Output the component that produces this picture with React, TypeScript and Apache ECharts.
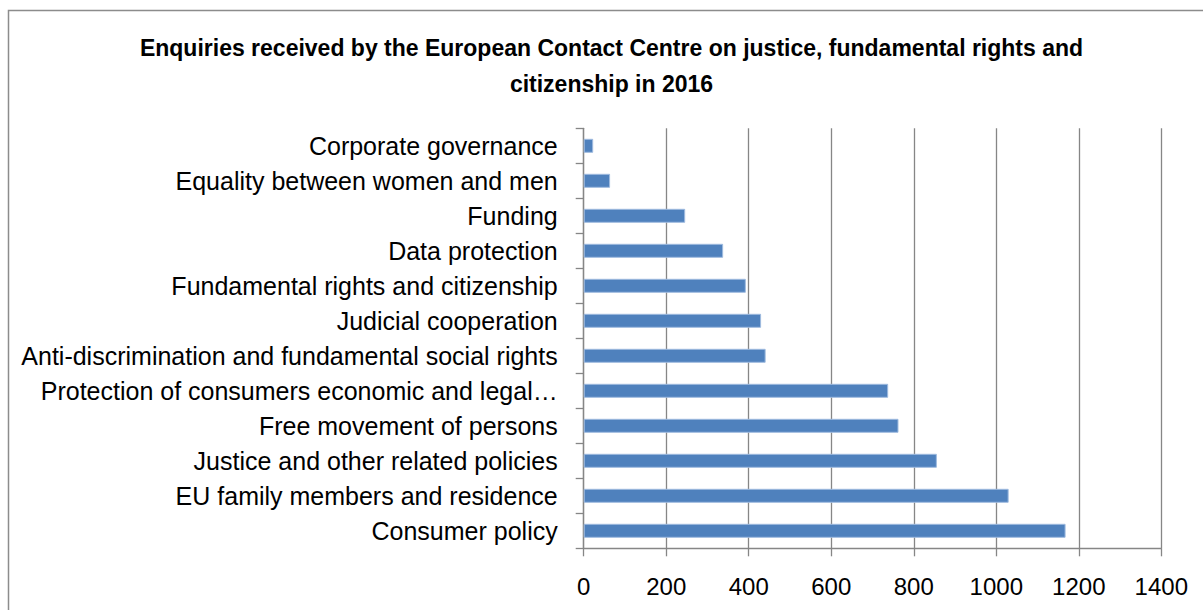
import React, { useEffect, useRef } from "react";
import * as echarts from "echarts";

const categories: string[] = [
  "Consumer policy",
  "EU family members and residence",
  "Justice and other related policies",
  "Free movement of persons",
  "Protection of consumers economic and legal…",
  "Anti-discrimination and fundamental social rights",
  "Judicial cooperation",
  "Fundamental rights and citizenship",
  "Data protection",
  "Funding",
  "Equality between women and men",
  "Corporate governance",
];

const enquiries: number[] = [1168, 1030, 856, 763, 738, 441, 430, 393, 338, 246, 64, 23];

const xTicks = { min: 0, max: 1400, interval: 200 };

const titleText =
  "Enquiries received by the European Contact Centre on justice, fundamental rights and\ncitizenship in 2016";

export default function App() {
  const ref = useRef<HTMLDivElement>(null);
  useEffect(() => {
    if (!ref.current) return;
    const chart = echarts.init(ref.current, undefined, { renderer: "svg" });
    const font = "'Liberation Sans', Arial, sans-serif";
    chart.setOption({
      animation: false,
      backgroundColor: "#ffffff",
      textStyle: { fontFamily: font },
      graphic: [
        {
          type: "rect",
          shape: { x: 8.5, y: 10.5, width: 1400, height: 800 },
          style: { fill: "none", stroke: "#8c8c8c", lineWidth: 1.5 },
          silent: true,
          z: -1,
        },
        {
          type: "text",
          x: 611.5,
          y: 30,
          silent: true,
          style: {
            text: titleText,
            fontFamily: font,
            fontWeight: "bold",
            fontSize: 23,
            lineHeight: 36,
            fill: "#000000",
            align: "center",
            verticalAlign: "top",
          },
        },
      ],
      grid: { left: 583.7, right: 41.7, top: 128.3, bottom: 61.7, containLabel: false },
      xAxis: {
        type: "value",
        min: xTicks.min,
        max: xTicks.max,
        interval: xTicks.interval,
        axisLine: { show: true, lineStyle: { color: "#868686", width: 1.3 } },
        axisTick: { show: true, length: 8, lineStyle: { color: "#868686", width: 1.3 } },
        axisLabel: {
          color: "#000000",
          fontSize: 24,
          fontFamily: font,
          margin: 26,
          formatter: (v: number) => String(v),
        },
        splitLine: { show: true, lineStyle: { color: "#868686", width: 1.3 } },
      },
      yAxis: {
        type: "category",
        data: categories,
        boundaryGap: true,
        axisLine: { show: true, lineStyle: { color: "#868686", width: 1.3 } },
        axisTick: { show: true, length: 8, alignWithLabel: false, lineStyle: { color: "#868686", width: 1.3 } },
        axisLabel: { color: "#000000", fontSize: 25, fontFamily: font, margin: 26 },
        splitLine: { show: false },
      },
      series: [
        {
          type: "bar",
          data: enquiries,
          barCategoryGap: "60%",
          itemStyle: { color: "#4f81bd", borderColor: "#9fbbdf", borderWidth: 1 },
        },
      ],
    });
    return () => chart.dispose();
  }, []);
  return (
    <div
      ref={ref}
      style={{ position: "fixed", left: 0, top: 0, width: 1203, height: 610 }}
    />
  );
}
